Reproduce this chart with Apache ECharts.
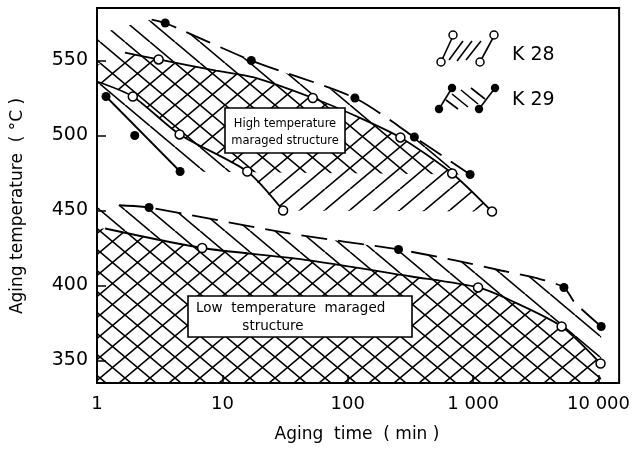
<!DOCTYPE html>
<html><head><meta charset="utf-8">
<script src="https://cdn.jsdelivr.net/npm/echarts@6/dist/echarts.min.js"></script>
<style>html,body{margin:0;padding:0;background:#fff}#c{width:633px;height:450px}</style>
</head><body><div id="c"></div>
<script>
// ---------- data: aging time (min), aging temperature (°C) ----------
const xTicks = [1, 10, 100, 1000, 10000];
const xTickLabels = ['1', '10', '100', '1 000', '10 000'];
const yTicks = [350, 400, 450, 500, 550];
const xRange = [1, 14600];
const yRange = [335, 585];

// high temperature maraged region
const k28HighTop = [[1.67,555.3],[3.1,550.7],[8.9,543.3],[17.9,538.7],[52.6,525],[116,513],[263,498.7],[681,474.7],[1414,449.3]];
const k28HighBottom = [[1,536],[1.93,526],[4.56,500.7],[15.8,476],[30.5,450]];
const k28HighLeftEdge = [[1,547]];
const k29HighTop = [[2.73,577.3],[3.5,575],[17,550],[114,525],[340,499],[946,474]];
const k29HighLeftEdge = [[1,567],[1.39,571]];
const k29HighBottom = [[4.6,476],[1.18,526],[1,533]];

// low temperature maraged region
const k28LowTop = [[1.16,438],[6.9,425],[40.7,417.7],[322,406],[1095,398.7],[2000,390],[5080,372.7],[10380,348]];
const k29LowTop = [[1.5,453.5],[2.6,452],[34,434.7],[254,424],[720,416.7],[1670,410],[3280,404.7],[5300,398.7],[6450,388.7],[10500,372.7]];

// measured points
const k28Points = [[3.1,550.7],[1.93,526],[4.56,500.7],[15.8,476],[30.5,450],[52.6,525],[263,498.7],[681,474.7],[1414,449.3],
                   [6.9,425],[1095,398.7],[5080,372.7],[10380,348]];
const k29Points = [[3.5,575],[17,550],[114,525],[340,499],[946,474],[1.18,526],[2.0,500],[4.6,476],
                   [2.6,452],[254,424],[5300,398.7],[10500,372.7]];

// ---------- region outlines built from the data ----------
const yMin = yRange[0];
const polyK28High = k28HighLeftEdge.concat(k28HighTop, k28HighBottom.slice().reverse());
const polyK29High = k29HighLeftEdge.concat(k29HighTop, k29HighBottom);
const polyK28Low = [[xRange[0], yMin], [xRange[0], k28LowTop[0][1]]].concat(k28LowTop, [[k28LowTop[k28LowTop.length-1][0], yMin]]);
const polyK29Low = [[xRange[0], yMin], [xRange[0], k29LowTop[0][1] - 1.5]].concat(k29LowTop, [[k29LowTop[k29LowTop.length-1][0], yMin]]);

function hatch(dir) {
  const w = 25, h = 21;
  const cv = document.createElement('canvas');
  cv.width = w; cv.height = h;
  const ctx = cv.getContext('2d');
  ctx.strokeStyle = '#000'; ctx.lineWidth = 1.6;
  for (let k = -1; k <= 1; k++) {
    ctx.beginPath();
    if (dir === '/') { ctx.moveTo(k*w, h); ctx.lineTo(k*w + w, 0); }
    else { ctx.moveTo(k*w, 0); ctx.lineTo(k*w + w, h); }
    ctx.stroke();
  }
  return cv;
}
const patF = hatch('/'), patB = hatch('\\');

function polySeries(points, pat) {
  return {
    type: 'custom', coordinateSystem: 'cartesian2d', silent: true, z: 1, clip: true,
    data: [[points[0][0], points[0][1]]],
    renderItem: (params, api) => ({
      type: 'polygon',
      shape: { points: points.map(p => api.coord(p)) },
      style: { fill: { image: pat, repeat: 'repeat' }, stroke: null }
    })
  };
}
function lineSeries(data, dashed) {
  return {
    type: 'line', data: data, showSymbol: false, silent: true, z: 3, smooth: 0.25,
    lineStyle: { color: '#000', width: 1.8, type: dashed ? [26, 11] : 'solid' }
  };
}

const chart = echarts.init(document.getElementById('c'), null, { renderer: 'canvas' });
const font = 'DejaVu Sans';
chart.setOption({
  animation: false,
  backgroundColor: '#fff',
  grid: { left: 97, right: 10, top: 8, bottom: 67, show: true, borderColor: '#000', borderWidth: 2, backgroundColor: 'transparent' },
  xAxis: {
    type: 'log', logBase: 10, min: xRange[0], max: xRange[1],
    axisLine: { lineStyle: { color: '#000', width: 2 } },
    axisTick: { inside: true, length: 8, lineStyle: { color: '#000', width: 1.5 }, customValues: xTicks },
    axisLabel: { customValues: xTicks, color: '#000', fontFamily: font, fontSize: 18, margin: 12,
      formatter: v => { const i = xTicks.findIndex(t => Math.abs(t - v) < 1e-6 * t); return i >= 0 ? xTickLabels[i] : ''; } },
    splitLine: { show: false }, minorTick: { show: false }
  },
  yAxis: {
    type: 'value', min: yRange[0], max: yRange[1],
    axisLine: { show: true, lineStyle: { color: '#000', width: 2 } },
    axisTick: { show: true, inside: true, length: 9, lineStyle: { color: '#000', width: 1.5 }, customValues: yTicks },
    axisLabel: { customValues: yTicks, color: '#000', fontFamily: font, fontSize: 19, margin: 9 },
    splitLine: { show: false }
  },
  series: [
    polySeries(polyK28High, patF),
    polySeries(polyK29High, patB),
    polySeries(polyK28Low, patF),
    polySeries(polyK29Low, patB),
    lineSeries(k28HighTop, false),
    lineSeries(k28HighBottom, false),
    lineSeries(k29HighTop, true),
    lineSeries(k29HighBottom.slice(0, 2), false),
    lineSeries(k28LowTop, false),
    lineSeries(k29LowTop, true),
    { type: 'scatter', data: k28Points, symbol: 'circle', symbolSize: 9, z: 5, silent: true,
      itemStyle: { color: '#fff', borderColor: '#000', borderWidth: 1.5, opacity: 1 } },
    { type: 'scatter', data: k29Points, symbol: 'circle', symbolSize: 9, z: 5, silent: true,
      itemStyle: { color: '#000', opacity: 1 } }
  ],
  graphic: [
    { type: 'text', x: 18, y: 206, rotation: Math.PI / 2, z: 10,
      style: { text: 'Aging temperature  ( °C )', font: '17px "DejaVu Sans"', fill: '#000', align: 'center', verticalAlign: 'middle' } },
    { type: 'text', x: 357, y: 435, z: 10,
      style: { text: 'Aging  time  ( min )', font: '17px "DejaVu Sans"', fill: '#000', align: 'center', verticalAlign: 'middle' } },
    // box: high temperature
    { type: 'rect', shape: { x: 225, y: 108, width: 120, height: 45 }, z: 20,
      style: { fill: '#fff', stroke: '#000', lineWidth: 1.6 } },
    { type: 'text', x: 285, y: 124, z: 21,
      style: { text: 'High temperature', font: '11.5px "DejaVu Sans"', fill: '#000', align: 'center', verticalAlign: 'middle' } },
    { type: 'text', x: 285, y: 141, z: 21,
      style: { text: 'maraged structure', font: '11.5px "DejaVu Sans"', fill: '#000', align: 'center', verticalAlign: 'middle' } },
    // box: low temperature
    { type: 'rect', shape: { x: 188, y: 296, width: 224, height: 41 }, z: 20,
      style: { fill: '#fff', stroke: '#000', lineWidth: 1.6 } },
    { type: 'text', x: 196, y: 308, z: 21,
      style: { text: 'Low  temperature  maraged', font: '13.5px "DejaVu Sans"', fill: '#000', align: 'left', verticalAlign: 'middle' } },
    { type: 'text', x: 273, y: 326, z: 21,
      style: { text: 'structure', font: '13.5px "DejaVu Sans"', fill: '#000', align: 'center', verticalAlign: 'middle' } },
    // legend K28
    { type: 'line', shape: { x1: 453, y1: 36, x2: 441, y2: 62 }, style: { stroke: '#000', lineWidth: 1.6 }, z: 20 },
    { type: 'line', shape: { x1: 494, y1: 36, x2: 480, y2: 62 }, style: { stroke: '#000', lineWidth: 1.6 }, z: 20 },
    { type: 'line', shape: { x1: 449, y1: 60, x2: 463, y2: 41 }, style: { stroke: '#000', lineWidth: 1.6 }, z: 20 },
    { type: 'line', shape: { x1: 457, y1: 61, x2: 472, y2: 41 }, style: { stroke: '#000', lineWidth: 1.6 }, z: 20 },
    { type: 'line', shape: { x1: 466, y1: 60, x2: 481, y2: 41 }, style: { stroke: '#000', lineWidth: 1.6 }, z: 20 },
    { type: 'circle', shape: { cx: 453, cy: 35, r: 4 }, style: { fill: '#fff', stroke: '#000', lineWidth: 1.5 }, z: 21 },
    { type: 'circle', shape: { cx: 441, cy: 62, r: 4 }, style: { fill: '#fff', stroke: '#000', lineWidth: 1.5 }, z: 21 },
    { type: 'circle', shape: { cx: 494, cy: 35, r: 4 }, style: { fill: '#fff', stroke: '#000', lineWidth: 1.5 }, z: 21 },
    { type: 'circle', shape: { cx: 480, cy: 62, r: 4 }, style: { fill: '#fff', stroke: '#000', lineWidth: 1.5 }, z: 21 },
    { type: 'text', x: 512, y: 55, z: 21, style: { text: 'K 28', font: '19px "DejaVu Sans"', fill: '#000', align: 'left', verticalAlign: 'middle' } },
    // legend K29
    { type: 'line', shape: { x1: 452, y1: 88, x2: 439, y2: 109 }, style: { stroke: '#000', lineWidth: 1.6 }, z: 20 },
    { type: 'line', shape: { x1: 495, y1: 88, x2: 479, y2: 109 }, style: { stroke: '#000', lineWidth: 1.6 }, z: 20 },
    { type: 'line', shape: { x1: 446, y1: 100, x2: 458, y2: 109 }, style: { stroke: '#000', lineWidth: 1.6 }, z: 20 },
    { type: 'line', shape: { x1: 452, y1: 94, x2: 468, y2: 107 }, style: { stroke: '#000', lineWidth: 1.6 }, z: 20 },
    { type: 'line', shape: { x1: 461, y1: 90, x2: 478, y2: 104 }, style: { stroke: '#000', lineWidth: 1.6 }, z: 20 },
    { type: 'line', shape: { x1: 471, y1: 88, x2: 485, y2: 99 }, style: { stroke: '#000', lineWidth: 1.6 }, z: 20 },
    { type: 'circle', shape: { cx: 452, cy: 88, r: 4.2 }, style: { fill: '#000' }, z: 21 },
    { type: 'circle', shape: { cx: 439, cy: 109, r: 4.2 }, style: { fill: '#000' }, z: 21 },
    { type: 'circle', shape: { cx: 495, cy: 88, r: 4.2 }, style: { fill: '#000' }, z: 21 },
    { type: 'circle', shape: { cx: 479, cy: 109, r: 4.2 }, style: { fill: '#000' }, z: 21 },
    { type: 'text', x: 512, y: 100, z: 21, style: { text: 'K 29', font: '19px "DejaVu Sans"', fill: '#000', align: 'left', verticalAlign: 'middle' } }
  ]
});
</script>
</body></html>
